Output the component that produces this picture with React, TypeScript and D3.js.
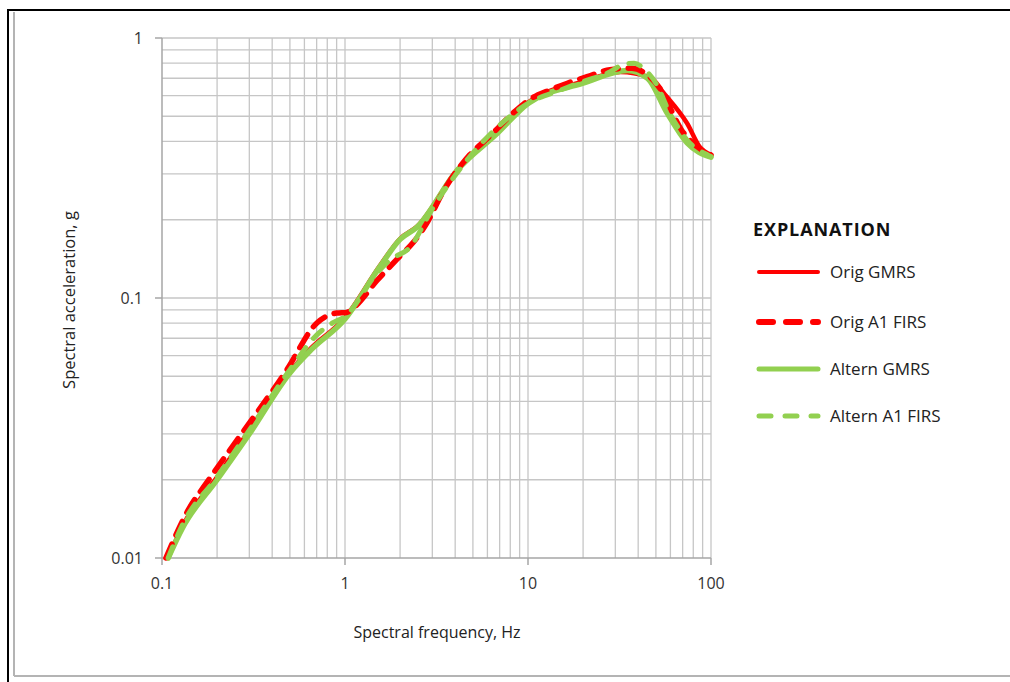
import React from 'react';
import * as d3 from 'd3';

// Orig GMRS (red solid)
const origGmrsFreq = [0.108, 0.129, 0.2, 0.3, 0.5, 0.65, 1.0, 1.55, 2.0, 2.47, 4.1, 6.8, 10, 20, 32, 45, 57.5, 74, 87, 100];
const origGmrsAcc = [0.01, 0.0132, 0.0205, 0.031, 0.052, 0.064, 0.084, 0.133, 0.169, 0.188, 0.31, 0.435, 0.565, 0.68, 0.74, 0.71, 0.593, 0.47, 0.38, 0.355];

// Orig A1 FIRS (red dashed)
const origFirsFreq = [0.105, 0.142, 0.172, 0.257, 0.48, 0.7, 0.9, 1.02, 1.12, 1.5, 2.0, 2.35, 2.8, 3.4, 4.8, 6.2, 8.3, 10.2, 13.1, 16.4, 21, 28, 37, 45, 52.6, 69, 96, 100];
const origFirsAcc = [0.01, 0.0157, 0.0191, 0.0284, 0.0528, 0.08, 0.0875, 0.088, 0.092, 0.117, 0.145, 0.163, 0.194, 0.253, 0.355, 0.42, 0.515, 0.58, 0.63, 0.67, 0.71, 0.755, 0.765, 0.72, 0.64, 0.443, 0.36, 0.355];

// Altern GMRS (green solid)
const altGmrsFreq = [0.108, 0.129, 0.2, 0.3, 0.5, 0.65, 1.0, 1.55, 2.0, 2.47, 4.1, 6.8, 10, 20, 35, 45, 57.5, 74, 100];
const altGmrsAcc = [0.01, 0.013, 0.02, 0.03, 0.0515, 0.063, 0.083, 0.132, 0.168, 0.187, 0.31, 0.43, 0.56, 0.67, 0.75, 0.7, 0.515, 0.395, 0.348];

// Altern A1 FIRS (green dashed)
const altFirsFreq = [0.108, 0.13, 0.2, 0.3, 0.5, 0.7, 0.85, 1.0, 1.5, 1.76, 2.27, 3.0, 4.5, 6.5, 10, 15, 20, 28, 33, 38, 43, 50, 59.5, 74, 96, 100];
const altFirsAcc = [0.01, 0.0135, 0.0205, 0.031, 0.053, 0.072, 0.08, 0.085, 0.125, 0.14, 0.157, 0.22, 0.33, 0.44, 0.56, 0.63, 0.68, 0.74, 0.79, 0.8, 0.76, 0.67, 0.515, 0.405, 0.355, 0.35];

const xTicks = [0.1, 1, 10, 100];
const yTicks = [0.01, 0.1, 1];
const xTickLabels = ['0.1', '1', '10', '100'];
const yTickLabels = ['0.01', '0.1', '1'];

const legendNames = ['Orig GMRS', 'Orig A1 FIRS', 'Altern GMRS', 'Altern A1 FIRS'];

const RED = '#ff0000';
const GREEN = '#92d050';
const FONT = '"Open Sans", "Noto Sans", sans-serif';

export default function App() {
  const width = 1010;
  const height = 682;
  const left = 162, right = 711, top = 38, bottom = 558;

  const x = d3.scaleLog().domain([0.1, 100]).range([left, right]);
  const y = d3.scaleLog().domain([0.01, 1]).range([bottom, top]);

  // minor grid values 2..9 per decade
  const xGrid: number[] = [];
  for (let d = 0.1; d < 100; d *= 10) {
    for (let m = 2; m <= 9; m++) xGrid.push(+(d * m).toPrecision(3));
  }
  const yGrid: number[] = [];
  for (let d = 0.01; d < 1; d *= 10) {
    for (let m = 2; m <= 9; m++) yGrid.push(+(d * m).toPrecision(3));
  }

  const line = (fs: number[], as: number[]) =>
    d3.line<number>()
      .x((_, i) => x(fs[i]))
      .y((a) => y(a))
      .curve(d3.curveMonotoneX)(as) || '';

  const series = [
    { f: origGmrsFreq, a: origGmrsAcc, color: RED, w: 4.5, dash: undefined },
    { f: altGmrsFreq, a: altGmrsAcc, color: GREEN, w: 5.5, dash: undefined },
    { f: origFirsFreq, a: origFirsAcc, color: RED, w: 5.5, dash: '15 10' },
    { f: altFirsFreq, a: altFirsAcc, color: GREEN, w: 5, dash: '12 12' },
  ];

  const legendStyles = [
    { color: RED, w: 4, dash: undefined },
    { color: RED, w: 6, dash: '14 13' },
    { color: GREEN, w: 5, dash: undefined },
    { color: GREEN, w: 5, dash: '12 14' },
  ];
  const legendY = [272, 322, 369, 416];

  return (
    <svg width={width} height={height} style={{ position: 'absolute', left: 0, top: 0, background: '#fff' }}>
      {/* frame */}
      <line x1={8} y1={10} x2={8} y2={682} stroke="#000" strokeWidth={2} />
      <line x1={7} y1={10} x2={1010} y2={10} stroke="#000" strokeWidth={2} />
      <line x1={14} y1={12} x2={14} y2={676} stroke="#b4b4b4" strokeWidth={2} />
      <line x1={14} y1={676} x2={1010} y2={676} stroke="#b4b4b4" strokeWidth={2} />

      {/* grid */}
      <g stroke="#c6c6c6" strokeWidth={1.3}>
        {xGrid.map((v) => (
          <line key={'xg' + v} x1={x(v)} x2={x(v)} y1={top} y2={bottom} />
        ))}
        {yGrid.map((v) => (
          <line key={'yg' + v} x1={left} x2={right} y1={y(v)} y2={y(v)} />
        ))}
        {xTicks.slice(1).map((v) => (
          <line key={'xm' + v} x1={x(v)} x2={x(v)} y1={top} y2={bottom} />
        ))}
        {yTicks.slice(1).map((v) => (
          <line key={'ym' + v} x1={left} x2={right} y1={y(v)} y2={y(v)} />
        ))}
      </g>

      {/* axes */}
      <g stroke="#a6a6a6" strokeWidth={1.5}>
        <line x1={left} x2={left} y1={top} y2={bottom} />
        <line x1={left} x2={right} y1={bottom} y2={bottom} />
        {yTicks.map((v) => (
          <line key={'yt' + v} x1={left - 7} x2={left} y1={y(v)} y2={y(v)} />
        ))}
        {xTicks.map((v) => (
          <line key={'xt' + v} x1={x(v)} x2={x(v)} y1={bottom} y2={bottom + 7} />
        ))}
      </g>

      {/* tick labels */}
      <g fontFamily={FONT} fontSize={16} fill="#333">
        {yTicks.map((v, i) => (
          <text key={'yl' + v} x={left - 19} y={y(v)} dy="0.35em" textAnchor="end">{yTickLabels[i]}</text>
        ))}
        {xTicks.map((v, i) => (
          <text key={'xl' + v} x={x(v)} y={bottom + 31} textAnchor="middle">{xTickLabels[i]}</text>
        ))}
      </g>

      {/* axis titles */}
      <text x={437} y={638} fontFamily={FONT} fontSize={16} fill="#222" textAnchor="middle">Spectral frequency, Hz</text>
      <text transform={`translate(75, ${(top + bottom) / 2 + 2}) rotate(-90)`} fontFamily={FONT} fontSize={16.5} fill="#222" textAnchor="middle">Spectral acceleration, g</text>

      {/* curves */}
      <g fill="none" strokeLinecap="round" strokeLinejoin="round">
        {series.map((s, i) => (
          <path key={'s' + i} d={line(s.f, s.a)} stroke={s.color} strokeWidth={s.w} strokeDasharray={s.dash} />
        ))}
      </g>

      {/* legend */}
      <text x={753} y={236} fontFamily={FONT} fontSize={18} fontWeight="bold" letterSpacing={0.9} fill="#111">EXPLANATION</text>
      {legendNames.map((name, i) => (
        <g key={name}>
          <line x1={759} x2={818} y1={legendY[i]} y2={legendY[i]} stroke={legendStyles[i].color}
            strokeWidth={legendStyles[i].w} strokeDasharray={legendStyles[i].dash} strokeLinecap="round" />
          <text x={830} y={legendY[i]} dy="0.35em" fontFamily={FONT} fontSize={17} fill="#222">{name}</text>
        </g>
      ))}
    </svg>
  );
}
